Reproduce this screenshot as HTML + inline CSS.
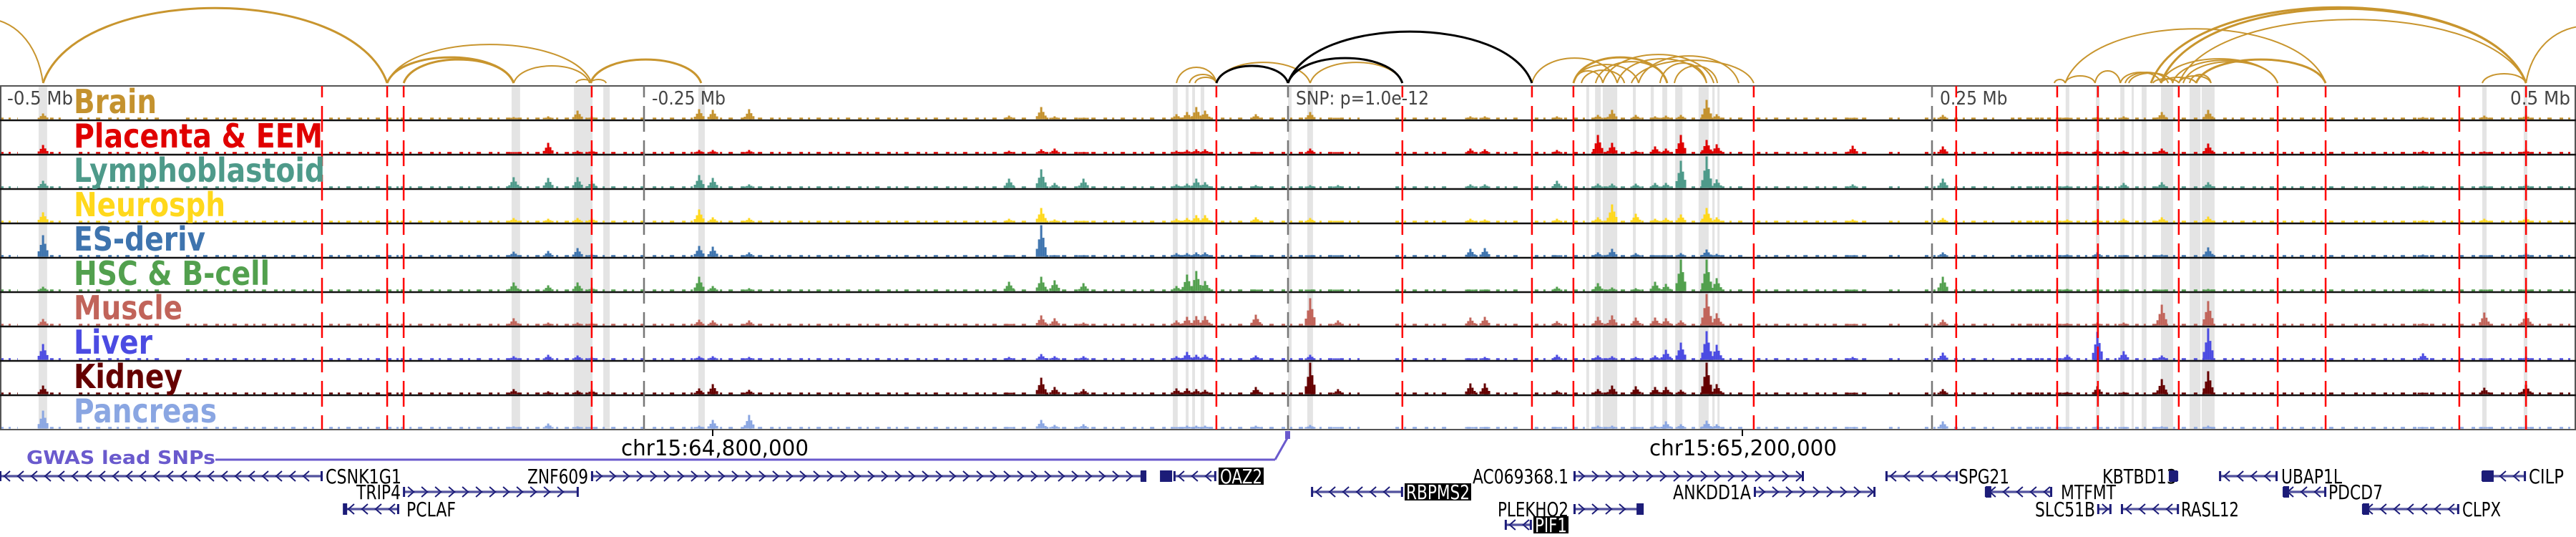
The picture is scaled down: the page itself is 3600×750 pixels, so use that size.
<!DOCTYPE html>
<html><head><meta charset="utf-8">
<style>
html,body{margin:0;padding:0;background:#fff;}
svg{display:block;}
.cond{font-family:"DejaVu Sans Condensed","DejaVu Sans","Liberation Sans",sans-serif;font-stretch:condensed;}
</style></head>
<body>
<svg id="chart" width="3600" height="750" viewBox="0 0 3600 750" xmlns="http://www.w3.org/2000/svg">
<g id="shade"></g>
<g id="arcs"></g>
<g id="signals"></g>
<g id="frame"></g>
<g id="vlines"></g>
<g id="labels"></g>
<g id="genes"></g>
</svg>
<script>
// ---- data ----
const trackNames = ["Brain","Placenta & EEM","Lymphoblastoid","Neurosph","ES-deriv","HSC & B-cell","Muscle","Liver","Kidney","Pancreas"];
const trackColors = ["#c4922e","#e00000","#4e9a8a","#ffd81c","#3e74ae","#52a04e","#c1645a","#4b4be2","#650000","#8aa6e2"];
const peaksKb = [-483.3,-300.6,-287.2,-275.8,-270.3,-228.6,-223.3,-209.2,-108.3,-95.8,-90.6,-79.4,-43.3,-39.2,-35.6,-32.2,-12.5,8.6,19.4,70.8,76.4,104.4,120.3,125.8,135,142.5,146.7,152.5,162.5,166.4,219.2,254.2,302.5,314.2,324.4,339.2,357.2,440.6,464.4,480.6];
const brainH = [8,3,4,12,4,14,13,14,5,17,4,2,7,10,17,12,7,10,2,4,4,4,6,13,6,4,5,6,27,7,2,6,2,3,4,10,13,3,5,6];
const placentaH = [12,2,15,4,5,5,5,5,4,6,7,2,4,5,6,6,2,7,2,7,6,5,26,15,4,10,7,26,19,13,11,10,3,5,4,7,14,4,3,5];
const lymphH = [10,15,14,15,10,18,14,5,13,26,7,13,5,6,13,8,4,4,4,5,5,10,6,6,6,7,7,38,44,12,5,13,3,4,7,8,8,3,3,5];
const neuroH = [14,6,5,6,6,18,7,6,5,20,4,2,5,6,10,10,7,6,2,5,4,5,7,25,12,5,6,11,20,7,4,6,4,4,5,7,8,3,5,7];
const esH = [30,7,8,12,4,15,14,6,2,44,2,2,5,5,6,6,2,2,2,11,12,2,6,11,5,2,2,5,10,4,2,6,3,6,2,3,13,3,2,5];
const hscH = [6,12,8,12,5,20,7,4,13,20,15,11,7,23,28,14,2,2,2,2,2,6,11,5,4,13,10,44,44,18,2,20,3,2,2,2,3,3,2,2];
const muscleH = [9,10,4,4,4,8,7,7,2,14,10,4,7,12,13,13,15,38,7,11,12,6,12,14,11,11,10,7,44,17,2,8,3,4,4,29,34,3,18,17];
const liverH = [22,5,7,6,4,5,5,4,4,8,5,5,5,11,7,7,6,7,2,2,4,7,6,5,4,6,14,24,40,21,4,10,7,39,12,6,44,9,2,4];
const kidneyH = [12,7,4,5,6,8,14,6,2,23,10,7,8,8,7,6,10,44,7,15,15,5,7,12,11,10,10,6,44,14,2,7,3,11,3,21,32,2,9,13];
const pancreasH = [25,3,7,3,2,4,12,19,2,12,5,6,2,4,4,4,4,5,2,2,2,2,4,4,2,4,10,6,11,6,2,10,2,3,2,3,4,2,2,3];
const trackHeights = [brainH,placentaH,lymphH,neuroH,esH,hscH,muscleH,liverH,kidneyH,pancreasH];
const bgStartKb = [-500,-480.6,-469.4,-427.8,-372.2,-344.4,-269.4,-155.6,-94.4,-13.9,41.7,69.4,95.8,111.1,182.0,233.3,247.2,280.6,283.3,386.1,413.9];
const bgEndKb = [-493.1,-475.0,-436.1,-377.8,-344.4,-272.2,-155.6,-100.0,-13.9,27.8,63.9,91.7,108.3,177.8,225.0,238.9,275.0,302.8,383.3,411.1,500];
const redLinesKb = [-375,-349.7,-343.3,-270.3,-27.8,44.4,94.7,110.8,180.8,259.4,298.6,314.4,345.8,384.2,402.8,454.7,480.6];
const tickKb = [-250,0,250];
const tickText = ["-0.25 Mb","SNP: p=1.0e-12","0.25 Mb"];
const shadeStartKb = [-485,-301.4,-277.2,-272.5,-265.8,-228.9,-44.7,-39.7,-37.2,-33.9,0,7.5,115.8,119.2,122.2,133.9,140.8,145.3,150.3,159.4,164.7,166.7,301.9,313.6,323.1,327.5,331.4,338.9,350,354.7,463.6,479.7];
const shadeEndKb = [-481.7,-298.1,-271.1,-270.0,-263.3,-226.4,-42.8,-38.6,-36.1,-32.5,1.4,9.7,116.9,121.4,127.8,135,142,147.2,153.1,163.3,165.6,167.5,303.3,315,324.7,328.3,333.3,343.6,354.2,359.7,465.3,481.1];
const arcStartKb = [-527.8,-483.3,-349.7,-343.3,-349.7,-300.6,-276.4,-270.8,-270.8,-43.3,-38.3,-36.1,-27.8,8.6,94.7,110.8,110.8,110.8,113.9,119.4,127.8,133.3,122.2,136.1,150,144.4,297.5,301.7,313.3,323.1,325,326.4,335.8,338.9,345.8,338.9,343.3,347.5,301.7,335,338.9,345.8,350,352.5,463.6,480.6];
const arcEndKb = [-483.3,-349.7,-300.6,-300.6,-270.3,-271.1,-270.3,-264.7,-227.8,-27.8,-27.8,-27.8,8.6,44.4,127.8,147.2,136.1,122.2,130.6,147.2,162.5,180.8,165.3,175.0,166.7,162.5,301.7,313.3,323.1,338.9,341.7,343.6,345.8,352.5,358.3,384.2,384.2,384.2,402.8,480.6,480.6,480.6,358.3,402.8,480.6,528];
const arcH = [90,105,36,33,54,24,5,5,33,22,12,8,29,29,35,36,26,17,18,30,34,32,40,38,24,28,5,10,17,15,15,14,6,8,10,34,32,30,76,106,104,89,12,33,13,80];
const blackArcStartKb = [-27.8,0,0];
const blackArcEndKb = [0,44.4,94.7];
const blackArcH = [24,35,72];
// genes
const geneName = ["CSNK1G1","ZNF609","OAZ2","AC069368.1","SPG21","KBTBD13","UBAP1L","CILP","TRIP4","RBPMS2","ANKDD1A","MTFMT","PDCD7","PCLAF","PLEKHO2","SLC51B","RASL12","CLPX","PIF1"];
const geneStartKb = [-500,-270.3,-44.2,111.1,232.2,342.2,361.7,463.6,-343.3,9.2,181.1,270.8,386.4,-366.4,111.1,314.4,323.6,417.2,84.4];
const geneEndKb = [-375,-56.7,-28.1,200,259.7,345.3,383.9,480.3,-275.6,44.4,227.8,296.4,402.8,-345.3,136.1,319.4,345.6,454.4,94.4];
const geneRow = [0,0,0,0,0,0,0,0,1,1,1,1,1,2,2,2,2,2,3];
const geneStrand = [-1,1,-1,1,-1,-1,-1,-1,1,-1,1,-1,-1,-1,1,1,-1,-1,-1];
</script>
<script>
const NS = "http://www.w3.org/2000/svg";
const X0 = 1800, PXKB = 3.6;
function xs(kb){ return X0 + kb*PXKB; }
const TOP = 120, TH = 48, NT = 10, BOT = TOP + TH*NT;
function trackTop(i){ return TOP + i*TH; }
function mk(tag, attrs, parent){
  const e = document.createElementNS(NS, tag);
  for (const k in attrs) e.setAttribute(k, attrs[k]);
  parent.appendChild(e);
  return e;
}
const gShade = document.getElementById('shade');
const gArcs = document.getElementById('arcs');
const gSig = document.getElementById('signals');
const gFrame = document.getElementById('frame');
const gV = document.getElementById('vlines');

for (let i=0;i<shadeStartKb.length;i++){
  const x1 = xs(shadeStartKb[i]), x2 = xs(shadeEndKb[i]);
  const r = mk('rect',{x:x1,y:TOP,width:Math.max(3,x2-x1),height:BOT-TOP,fill:'#e4e4e4'},gShade);
  
  
}

function arcPath(x1,x2,h,base){
  const w = x2-x1;
  return `M${x1},${base} C${x1+w*0.1},${base-h*1.33} ${x2-w*0.1},${base-h*1.33} ${x2},${base}`;
}
const ARCBASE = 116;
for (let i=0;i<arcStartKb.length;i++){
  const p = mk('path',{d:arcPath(xs(arcStartKb[i]),xs(arcEndKb[i]),arcH[i],ARCBASE),fill:'none',stroke:'#c8952e','stroke-width':arcH[i]>100||arcH[i]===36||arcH[i]===33?3:2},gArcs);
  
  
}
for (let i=0;i<blackArcStartKb.length;i++){
  const p = mk('path',{d:arcPath(xs(blackArcStartKb[i]),xs(blackArcEndKb[i]),blackArcH[i],ARCBASE),fill:'none',stroke:'#000','stroke-width':3},gArcs);
  
  
}

for (let t=0;t<NT;t++){
  const g = mk('g',{},gSig);
  
  
  const base = trackTop(t) + TH - 1.5;
  const col = trackColors[t];
  for (let s=0;s<bgStartKb.length;s++){
    const x1 = xs(bgStartKb[s]), x2 = xs(bgEndKb[s]);
    const l = mk('line',{x1:x1,x2:x2,y1:base-1,y2:base-1,stroke:col,'stroke-width':2.5,'stroke-dasharray':'5 7 3 9 6 11'},g);
    
    
  }
  const hs = trackHeights[t];
  const shape = [0.25,0.55,1,0.6,0.3];
  for (let p=0;p<peaksKb.length;p++){
    const cx = xs(peaksKb[p]);
    for (let k=0;k<5;k++){
      const h = Math.max(2, hs[p]*shape[k]);
      const r = mk('rect',{x:cx-7.5+k*3,y:base-h,width:3,height:h,fill:col},g);
      
      
    }
  }
}

mk('rect',{x:1,y:TOP,width:3598,height:BOT-TOP,fill:'none',stroke:'#555','stroke-width':2},gFrame);
for (let t=1;t<NT;t++){
  const l = mk('line',{x1:0,x2:3600,y1:trackTop(t),y2:trackTop(t),stroke:'#111','stroke-width':2.5},gFrame);
  
  
}

for (let i=0;i<redLinesKb.length;i++){
  const x = xs(redLinesKb[i]);
  const l = mk('line',{x1:x,x2:x,y1:TOP,y2:BOT,stroke:'#f00','stroke-width':2.5,'stroke-dasharray':'36 12','stroke-dashoffset':20},gV);
  
  
}
for (let i=0;i<tickKb.length;i++){
  const x = xs(tickKb[i]);
  const l = mk('line',{x1:x,x2:x,y1:TOP,y2:BOT,stroke:'#777','stroke-width':2.5,'stroke-dasharray':'36 12','stroke-dashoffset':20},gV);
  
  
  const tx = mk('text',{x:x+11,y:146,'font-size':26,fill:'#444',class:'cond'},gV);
  tx.textContent = tickText[i];
  
  
}
</script>
<script>
(function(){
const lg = document.getElementById('labels');
function T(txt,x,y,size,col,len,name,extra){
  const e = document.createElementNS("http://www.w3.org/2000/svg",'text');
  e.setAttribute('x',x); e.setAttribute('y',y);
  e.setAttribute('font-size',size); e.setAttribute('fill',col);
  e.setAttribute('class','cond');
  if (len){ e.setAttribute('textLength',len); e.setAttribute('lengthAdjust','spacingAndGlyphs'); }
  if (extra) for (const k in extra) e.setAttribute(k, extra[k]);
  e.textContent = txt;
  
  
  lg.appendChild(e);
  return e;
}
T("-0.5 Mb",10,146,26,'#444',92,'axis-label-left');
T("0.5 Mb",3508,146,26,'#444',84,'axis-label-right');
const labelW = [116,348,351,212,184,274,152,110,152,200];
for (let t=0;t<10;t++){
  T(trackNames[t],103,120+t*48+38,46,trackColors[t],labelW[t],'track-label',{'font-weight':'bold'});
}
T("chr15:64,800,000",868,636,30,'#000',262,'coordinate-label');
T("chr15:65,200,000",2305,636,30,'#000',262,'coordinate-label');
T("GWAS lead SNPs",37,648,26,'#6a5acd',264,'gwas-track-label',{'font-weight':'bold'});
const ns="http://www.w3.org/2000/svg";
function L(x1,y1,x2,y2,c,w,name){const e=document.createElementNS(ns,'line');e.setAttribute('x1',x1);e.setAttribute('y1',y1);e.setAttribute('x2',x2);e.setAttribute('y2',y2);e.setAttribute('stroke',c);e.setAttribute('stroke-width',w);lg.appendChild(e);}
L(996,600,996,609,'#000',2,'coordinate-tick');
L(2435,600,2435,609,'#000',2,'coordinate-tick');
L(301,642,1782,642,'#6a5acd',3,'gwas-link-line');
L(1782,642,1799,612,'#6a5acd',3,'gwas-link-line');
const b=document.createElementNS(ns,'rect');b.setAttribute('x',1796);b.setAttribute('y',602);b.setAttribute('width',7);b.setAttribute('height',11);b.setAttribute('fill','#6a5acd');


lg.appendChild(b);
})();
</script>
<script>
(function(){
const ns="http://www.w3.org/2000/svg";
const gg=document.getElementById('genes');
const rowY=[665,687,711,733];
const NAVY='#1c1c78';
const labelPos = {
 "CSNK1G1":[455,106,false],"ZNF609":[737,85,false],"OAZ2":[1703,63,true],"AC069368.1":[2058,134,false],
 "SPG21":[2737,71,false],"KBTBD13":[2938,104,false],"UBAP1L":[3188,85,false],"CILP":[3534,49,false],
 "TRIP4":[498,62,false],"RBPMS2":[1963,93,true],"ANKDD1A":[2338,109,false],"MTFMT":[2880,77,false],"PDCD7":[3254,76,false],
 "PCLAF":[568,69,false],"PLEKHO2":[2093,99,false],"SLC51B":[2844,84,false],"RASL12":[3048,81,false],"CLPX":[3441,54,false],
 "PIF1":[2143,49,true]
};
function el(tag,a){const e=document.createElementNS(ns,tag);for(const k in a)e.setAttribute(k,a[k]);gg.appendChild(e);return e;}
for(let i=0;i<geneStartKb.length;i++){
  const x1=1800+geneStartKb[i]*3.6, x2=1800+geneEndKb[i]*3.6, y=rowY[geneRow[i]];
  const ln=el('line',{x1:x1,x2:x2,y1:y,y2:y,stroke:NAVY,'stroke-width':3});
  
  
  el('line',{x1:x1,x2:x2,y1:y,y2:y,stroke:'#8a8ac8','stroke-width':1});
  const d=geneStrand[i];
  for(let x=x1+10;x<x2-6;x+=19){
    const c=el('polyline',{points:`${x-4*d},${y-7} ${x+4*d},${y} ${x-4*d},${y+7}`,fill:'none',stroke:NAVY,'stroke-width':2});
    
    
  }
  el('rect',{x:x1-1,y:y-7,width:3,height:14,fill:NAVY});
  el('rect',{x:x2-2,y:y-7,width:3,height:14,fill:NAVY});
  const nm=geneName[i];
  const p=labelPos[nm];
  if(p){
    if(p[2]){
      const r=el('rect',{x:p[0],y:y-12,width:p[1],height:24,fill:'#000'});
      
      
    }
    const t=el('text',{x:p[0]+(p[2]?2:0),y:y+10,'font-size':28,fill:p[2]?'#fff':'#000',class:'cond',textLength:p[1]-(p[2]?4:0),lengthAdjust:'spacingAndGlyphs'});
    t.textContent=nm;
    
    
  }
}
const exonKb=[-57.2,-49.7,342.2,463.6,270.8,386.4,-366.9,135.3,417.2];
const exonWpx=[8,17,11,16,8,8,6,10,9];
const exonRow=[0,0,0,0,1,1,2,2,2];
for(let i=0;i<exonKb.length;i++){
  const x=1800+exonKb[i]*3.6, y=rowY[exonRow[i]];
  const r=el('rect',{x:x,y:y-8,width:exonWpx[i],height:16,fill:NAVY});
  
  
}
})();
</script>
</body></html>
